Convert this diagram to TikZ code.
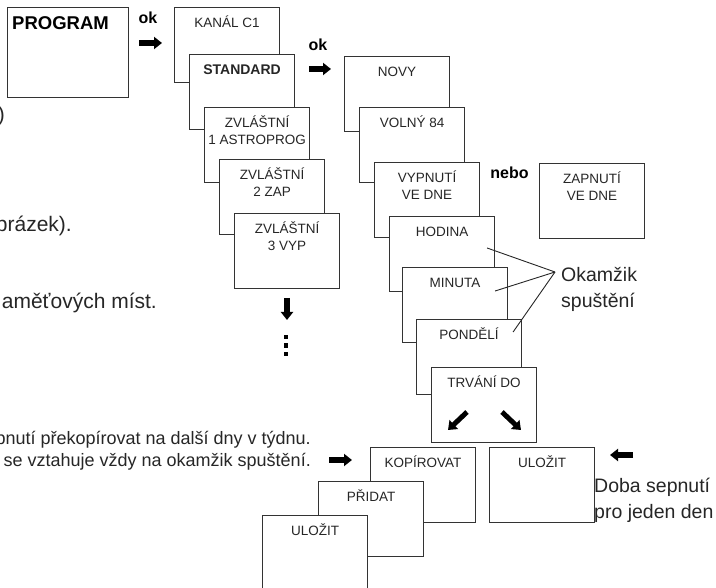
\documentclass[tikz,border=0pt]{standalone}
\usepackage{fontspec}
\setmainfont{Liberation Sans}
\usetikzlibrary{calc,arrows.meta}
\def\menubox(#1)#2#3{\node[menubox] (#2) at (#1) {}; \node[menutext] (#2-txt) at ($(#2.north)+(0,7)$) {\rule{0pt}{13pt}#3};}

\tikzset{
	menubox/.style={draw=black!80, line width=1.1pt, fill=white, anchor=north west, inner sep=0pt, minimum width=105pt, minimum height=75pt},
	menutext/.style={anchor=north, inner sep=0pt, align=center, text=black!85, font=\fontsize{13.5}{17}\selectfont},
	fatarrow/.style={line width=6pt, -{Triangle[length=8pt, width=12pt]}},
	pointer/.style={line width=0.9pt, black!85},
	pagetext/.style={inner sep=0pt, text=black!85, font=\fontsize{21}{25}\selectfont},
	notetext/.style={inner sep=0pt, align=left, text=black!85, font=\fontsize{19.5}{26.5}\selectfont},
	keyword/.style={inner sep=0pt, anchor=base, font=\bfseries\fontsize{16}{18}\selectfont},
}

\begin{document}
\begin{tikzpicture}[x=1pt, y=-1pt]
	%%%%% START %%%%%
	\useasboundingbox (0,0) rectangle (716,588);
	\clip (0,0) rectangle (716,588);
	
	% text of the page, cut off on the left
	\node[pagetext, anchor=east] (frag-a) at (5,116) {)};
	\node[pagetext, anchor=east] (frag-b) at (72,226) {prázek).};
	\node[pagetext, anchor=east] (frag-c) at (157,303) {aměťových míst.};
	\node[pagetext, anchor=east, font=\fontsize{18}{22}\selectfont] (frag-d) at (311,440) {pnutí překopírovat na další dny v týdnu.};
	\node[pagetext, anchor=east, font=\fontsize{18}{22}\selectfont] (frag-e) at (311,462) {se vztahuje vždy na okamžik spuštění.};
	
	% program
	\node[menubox, minimum width=121pt, minimum height=90pt] (program) at (7,7) {};
	\node[inner sep=0pt, anchor=base west, font=\bfseries\fontsize{18.5}{20}\selectfont] (program-txt) at (12,29.5) {PROGRAM};
	\node[keyword] (ok-a) at (148,24) {ok};
	\draw[fatarrow] (139,43) -- (162,43);
	
	% channel and program kind
	\menubox(174,7){kanal}{KANÁL C1}
	\menubox(189,54){standard}{\bfseries\fontsize{14}{17}\selectfont STANDARD}
	\menubox(204,107){zvl-a}{ZVLÁŠTNÍ\\1 ASTROPROG}
	\menubox(219,159){zvl-b}{ZVLÁŠTNÍ\\2 ZAP}
	\menubox(234,213){zvl-c}{ZVLÁŠTNÍ\\3 VYP}
	\draw[fatarrow] (287,298) -- (287,320);
	\foreach \y in {335,343.5,352}
		\fill (283.5,\y) rectangle +(4.5,4.5);
	
	\node[keyword] (ok-b) at (318,51) {ok};
	\draw[fatarrow] (309,69) -- (331,69);
	
	% switching time
	\menubox(344,56){novy}{NOVY}
	\menubox(359,107){volny}{VOLNÝ 84}
	\menubox(374,162){vypnuti}{VYPNUTÍ\\VE DNE}
	\node[keyword] (nebo) at (509.5,179) {nebo};
	\menubox(539,163){zapnuti}{ZAPNUTÍ\\VE DNE}
	\menubox(389,216){hodina}{HODINA}
	\menubox(402,267){minuta}{MINUTA}
	\menubox(416,319){pondeli}{PONDĚLÍ}
	\menubox(431,367){trvani}{TRVÁNÍ DO}
	\draw[fatarrow, line width=5pt] (467,412) -- (448,430);
	\draw[fatarrow, line width=5pt] (502,412) -- (521,430);
	
	\node[notetext, anchor=north west] (okamzik) at (561,265) {\rule{0pt}{16pt}Okamžik\\spuštění};
	\coordinate (okamzik-pt) at (555,272);
	\draw[pointer] (okamzik-pt) -- ($(hodina.north east)+(-8,32)$);
	\draw[pointer] (okamzik-pt) -- ($(minuta.north east)+(-13,24)$);
	\draw[pointer] (okamzik-pt) -- ($(pondeli.north east)+(-9,13)$);
	
	% copy and save
	\draw[fatarrow] (329,460) -- (352,460);
	\menubox(370,447){kopirovat}{KOPÍROVAT}
	\menubox(318,481){pridat}{PŘIDAT}
	\menubox(262,515){ulozit-a}{ULOŽIT}
	\menubox(489,447){ulozit-b}{ULOŽIT}
	\draw[fatarrow] (633,455) -- (610,455);
	\node[notetext, anchor=north west] (doba) at (594,476) {\rule{0pt}{16pt}Doba sepnutí\\pro jeden den};
	
	%%%%% END %%%%%
\end{tikzpicture}
\end{document}
